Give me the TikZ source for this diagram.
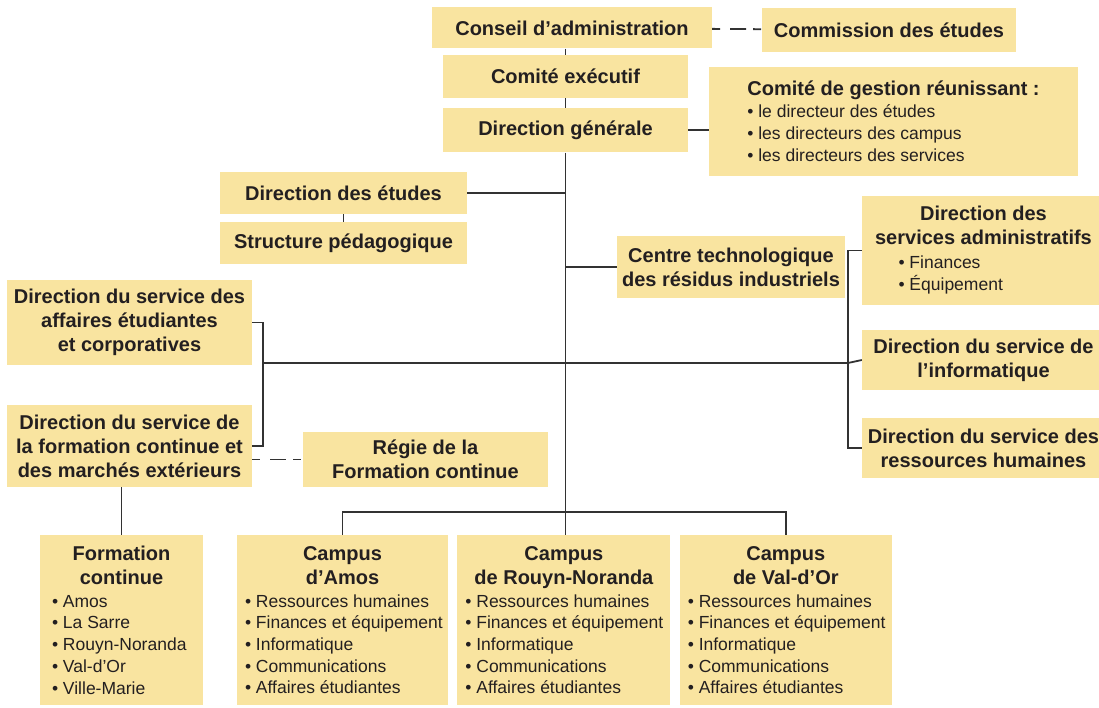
\documentclass[tikz,border=0pt]{standalone}
\usepackage{fontspec}
\setmainfont{Liberation Sans}
\usetikzlibrary{positioning}
\definecolor{boxfill}{RGB}{249,228,160}
\definecolor{boxtext}{RGB}{35,31,32}
\definecolor{linkgray}{RGB}{50,50,50}
\newcommand{\headf}{\bfseries\fontsize{20}{24}\selectfont}
\newcommand{\itemf}{\mdseries\fontsize{17.5}{21.7}\selectfont}
\newcommand{\puce}[2]{\makebox[#1][l]{\itemf\textbullet\ #2}}

\begin{document}
\begin{tikzpicture}[
    x=1pt, y=-1pt,
    unit/.style={fill=boxfill, text=boxtext, inner sep=0pt, align=center, font=\headf},
    link/.style={draw=linkgray, line width=1.8pt},
    dashlink/.style={link, dash pattern=on 8pt off 10pt on 16pt off 7pt}
]
\useasboundingbox (0,0) rectangle (1099,708);

% top of the chart
\node[unit, minimum width=280pt, minimum height=41pt] (ca) at (572,28) {Conseil d’administration};
\node[unit, minimum width=254pt, minimum height=44pt] (cde) at (889,30) {Commission des études};
\node[unit, minimum width=245pt, minimum height=43pt] (ce) at (565.5,76.5) {Comité exécutif};
\node[unit, minimum width=245pt, minimum height=44pt, below=10pt of ce] (dg) {Direction générale};
\node[unit, minimum width=369pt, minimum height=109pt, align=left] (cg) at (893.5,121.5)
    {Comité de gestion réunissant :\\[-2pt] \puce{10pt}{le directeur des études}\\[-2pt] \puce{10pt}{les directeurs des campus}\\[-2pt] \puce{10pt}{les directeurs des services}};

% middle
\node[unit, minimum width=247pt, minimum height=42pt] (de) at (343.5,193) {Direction des études};
\node[unit, minimum width=247pt, minimum height=42pt, below=8pt of de] (sp) {Structure pédagogique};
\node[unit, minimum width=228pt, minimum height=62pt] (ct) at (731,267) {Centre technologique\\des résidus industriels};
\node[unit, minimum width=243pt, minimum height=109pt] (sa) at (983.5,250.5)
    {Direction des\\services administratifs\\ \puce{170pt}{Finances}\\[-2pt] \puce{170pt}{Équipement}};
\node[unit, minimum width=243pt, minimum height=60pt] (inf) at (983.5,360) {Direction du service de\\l’informatique};
\node[unit, minimum width=243pt, minimum height=60pt] (rh) at (983.5,448) {Direction du service des\\ressources humaines};
\node[unit, minimum width=245pt, minimum height=85pt] (aec) at (129.5,322.5) {Direction du service des\\affaires étudiantes\\et corporatives};
\node[unit, minimum width=245pt, minimum height=82pt] (fcme) at (129.5,446) {Direction du service de\\la formation continue et\\des marchés extérieurs};
\node[unit, minimum width=245pt, minimum height=55pt] (reg) at (425.5,459.5) {Régie de la\\Formation continue};

% bottom row
\node[unit, minimum width=163pt, minimum height=170pt] (fc) at (121.5,620)
    {Formation\\continue\\[-1pt] \puce{139pt}{Amos}\\[-2.3pt] \puce{139pt}{La Sarre}\\[-2.3pt] \puce{139pt}{Rouyn-Noranda}\\[-2.3pt] \puce{139pt}{Val-d’Or}\\[-2.3pt] \puce{139pt}{Ville-Marie}};
\node[unit, minimum width=211pt, minimum height=170pt] (amos) at (342.5,620)
    {Campus\\d’Amos\\[-1pt] \puce{195pt}{Ressources humaines}\\[-2.3pt] \puce{195pt}{Finances et équipement}\\[-2.3pt] \puce{195pt}{Informatique}\\[-2.3pt] \puce{195pt}{Communications}\\[-2.3pt] \puce{195pt}{Affaires étudiantes}};
\node[unit, minimum width=213pt, minimum height=170pt, right=9pt of amos] (rn)
    {Campus\\de Rouyn-Noranda\\[-1pt] \puce{197pt}{Ressources humaines}\\[-2.3pt] \puce{197pt}{Finances et équipement}\\[-2.3pt] \puce{197pt}{Informatique}\\[-2.3pt] \puce{197pt}{Communications}\\[-2.3pt] \puce{197pt}{Affaires étudiantes}};
\node[unit, minimum width=212pt, minimum height=170pt, right=9pt of rn] (vd)
    {Campus\\de Val-d’Or\\[-1pt] \puce{196pt}{Ressources humaines}\\[-2.3pt] \puce{196pt}{Finances et équipement}\\[-2.3pt] \puce{196pt}{Informatique}\\[-2.3pt] \puce{196pt}{Communications}\\[-2.3pt] \puce{196pt}{Affaires étudiantes}};

\coordinate (bus) at (565.5,512);
\coordinate (lb) at (263,363);
\coordinate (rb) at (848,363);

% connectors
\draw[link] (ca.south -| ce.north) -- (ce.north);
\draw[link] (ce) -- (dg);
\draw[link] (dg) -- (bus);
\draw[dashlink] (ca) -- (cde);
\draw[link] (dg.east) -- (dg.east -| cg.west);
\draw[link] (de.east) -- (de.east -| bus);
\draw[link] (de) -- (sp);
\draw[link] (ct.west) -- (ct.west -| bus);
\draw[link] (aec.east) -| (lb) |- (fcme.east);
\draw[link] (lb) -- (rb);
\draw[link] (sa.west) -| (rb) |- (rh.west);
\draw[link] (rb) -- (inf.west);
\draw[dashlink] (fcme.east |- reg.west) -- (reg.west);
\draw[link] (fc.north) -- (fc.north |- fcme.south);
\draw[link] (amos.north) |- (bus) -| (vd.north);
\draw[link] (bus) -- (bus |- rn.north);

\end{tikzpicture}
\end{document}
